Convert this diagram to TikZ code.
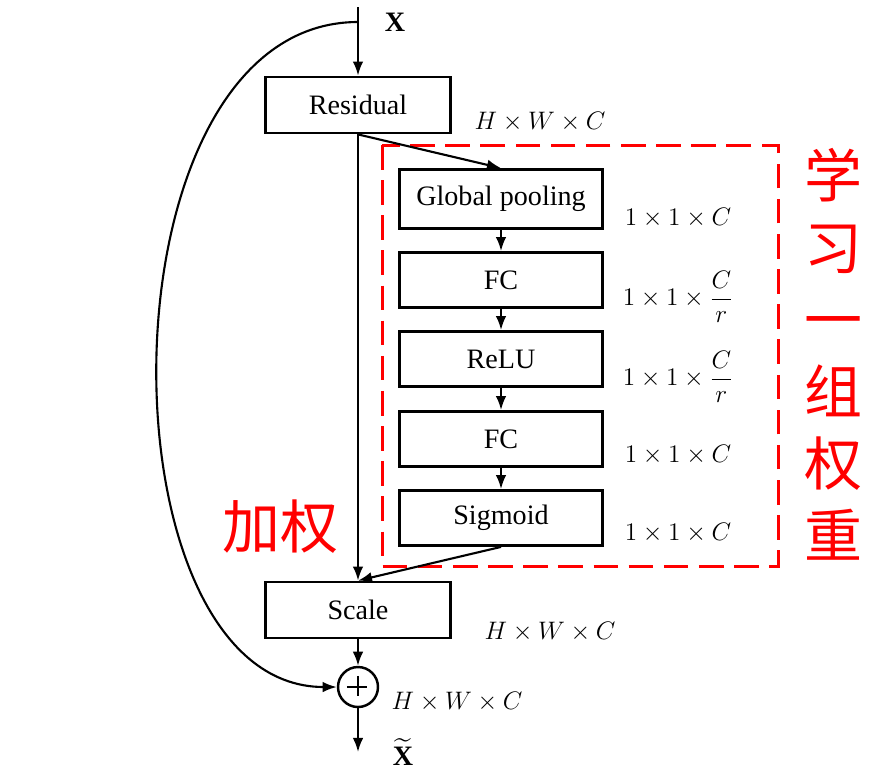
\documentclass[tikz,border=0pt]{standalone}
\usepackage{amsmath}
\usepackage{fontspec}
\setmainfont{Liberation Serif}
\newfontfamily\cjk{Noto Sans CJK SC}
\usetikzlibrary{arrows.meta,positioning}

\begin{document}
\begin{tikzpicture}[x=0.02cm,y=-0.02cm,>={Latex[length=8pt,width=6pt]},
 blk/.style={draw,line width=1.6pt,inner sep=0pt,minimum width=3.7cm,minimum height=1.12cm,font=\fontsize{16}{18}\selectfont},
 sub/.style={blk,minimum width=4.06cm,minimum height=1.1cm},
 dim/.style={font=\fontsize{14}{16}\selectfont},
 cn/.style={text=red,font=\cjk\fontsize{33}{41}\selectfont,inner sep=0pt},
 line/.style={line width=1.2pt}]
\useasboundingbox (0,0) rectangle (874,779);
% main branch
\coordinate (in) at (358,7);
\coordinate (split) at (358,22);
\node[font=\fontsize{16}{18}\selectfont] (xin) at (395,22) {$\mathbf{X}$};
\node[blk] (res) at (358,105) {Residual};
\node[blk] (scale) at (358,610) {Scale};
\node[draw,circle,line width=1.4pt,minimum size=0.8cm,inner sep=0pt,font=\fontsize{18}{18}\selectfont] (plus) at (358,687) {};
\draw[line width=1pt] (plus.north) ++(0,10) -- ++(0,20) (plus.west) ++(10,0) -- ++(20,0);
\coordinate (out) at (358,752);
\node[font=\fontsize{16}{18}\selectfont] (xout) at (403,752) {$\widetilde{\mathbf{X}}$};
% squeeze-excitation branch
\node[sub,minimum height=1.18cm] (gp) at (501,199) {Global pooling};
\node[sub] (fc1) at (501,280) {FC};
\node[sub] (relu) at (501,359) {ReLU};
\node[sub] (fc2) at (501,439) {FC};
\node[sub] (sig) at (501,518) {Sigmoid};
\draw[red,line width=1.7pt,dash pattern=on 14pt off 6pt] (382,145) rectangle (778,566);
% dimensions
\node[dim] (d0) at (540,122) {$H\times W\times C$};
\node[dim] (d1) at (678,218) {$1\times1\times C$};
\node[dim] (d2) at (678,297) {$1\times1\times\dfrac{C}{r}$};
\node[dim] (d3) at (678,377) {$1\times1\times\dfrac{C}{r}$};
\node[dim] (d4) at (678,455) {$1\times1\times C$};
\node[dim] (d5) at (678,533) {$1\times1\times C$};
\node[dim] (d6) at (550,632) {$H\times W\times C$};
\node[dim] (d7) at (457,702) {$H\times W\times C$};
% notes
\node[cn] (wt) at (280,527) {加权};
\node[cn,align=center] (learn) at (833,354) {学\\习\\一\\组\\权\\重};
% connectors
\draw[line,->] (in)--(res);
\draw[line,->] (res)--(scale);
\draw[line,->] (res.south)--(gp.north);
\draw[line,->] (gp)--(fc1);
\draw[line,->] (fc1)--(relu);
\draw[line,->] (relu)--(fc2);
\draw[line,->] (fc2)--(sig);
\draw[line,->] (sig.south)--(scale.north);
\draw[line,->] (scale)--(plus);
\draw[line,->] (plus)--(out);
\draw[line,->] (split) .. controls (95,22) and (95,687) .. (plus.west);
\end{tikzpicture}
\end{document}
